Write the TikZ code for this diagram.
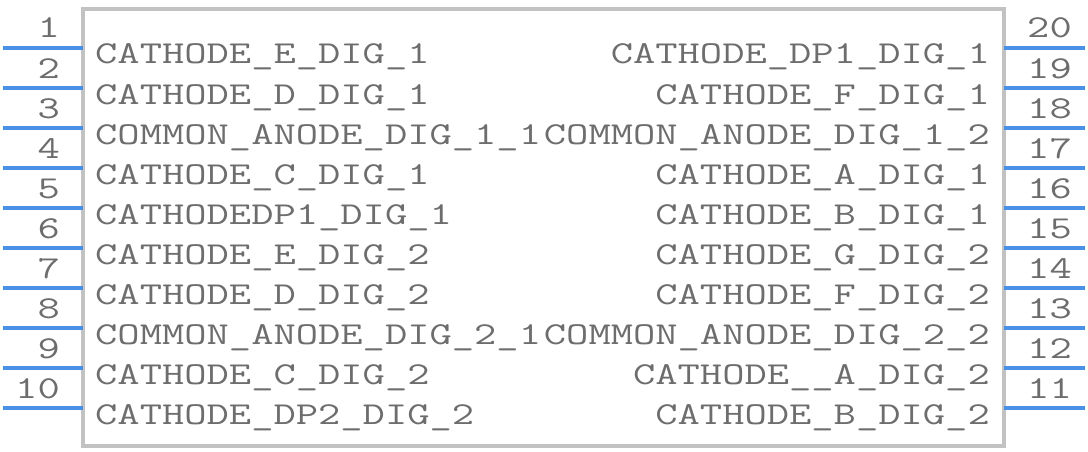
\documentclass[tikz,border=0pt]{standalone}
\usepackage{fontspec}
\newfontfamily\pinfont[FakeStretch=1.357]{Latin Modern Mono}
\definecolor{pinblue}{HTML}{4A90E6}
\definecolor{boxgray}{HTML}{C2C2C2}
\definecolor{txtgray}{HTML}{6D6D6D}
\begin{document}
\begin{tikzpicture}[x=1pt,y=-1pt,
  pinline/.style={draw=pinblue,line width=3.5pt},
  bodybox/.style={draw=boxgray,line width=4pt},
  lbl/.style={inner sep=0pt,text=txtgray,font=\pinfont\fontsize{31.9}{40}\selectfont},
  pinnum/.style={inner sep=0pt,text=txtgray,font=\pinfont\fontsize{31.9}{40}\selectfont}]
\useasboundingbox (0,0) rectangle (1088,452);
\draw[bodybox] (83,9) rectangle (1004,446);
% left pins
\foreach \n/\t [count=\i from 0] in {1/CATHODE\_E\_DIG\_1,2/CATHODE\_D\_DIG\_1,3/COMMON\_ANODE\_DIG\_1\_1,4/CATHODE\_C\_DIG\_1,5/CATHODEDP1\_DIG\_1,6/CATHODE\_E\_DIG\_2,7/CATHODE\_D\_DIG\_2,8/COMMON\_ANODE\_DIG\_2\_1,9/CATHODE\_C\_DIG\_2,10/CATHODE\_DP2\_DIG\_2}{
  \coordinate (lo\n) at (3,48+40*\i);
  \coordinate (li\n) at (83,48+40*\i);
  \draw[pinline] (lo\n) -- (li\n);
  \node[pinnum,anchor=base east] (ln\n) at (60,38+40*\i) {\n};
  \node[lbl,anchor=base west] (ll\n) at (95,64+40*\i) {\t};
}
% right pins
\foreach \n/\t [count=\i from 0] in {20/CATHODE\_DP1\_DIG\_1,19/CATHODE\_F\_DIG\_1,18/COMMON\_ANODE\_DIG\_1\_2,17/CATHODE\_A\_DIG\_1,16/CATHODE\_B\_DIG\_1,15/CATHODE\_G\_DIG\_2,14/CATHODE\_F\_DIG\_2,13/COMMON\_ANODE\_DIG\_2\_2,12/CATHODE\_\_A\_DIG\_2,11/CATHODE\_B\_DIG\_2}{
  \coordinate (ro\n) at (1085,48+40*\i);
  \coordinate (ri\n) at (1004,48+40*\i);
  \draw[pinline] (ri\n) -- (ro\n);
  \node[pinnum,anchor=base west] (rn\n) at (1027,38+40*\i) {\n};
  \node[lbl,anchor=base east] (rl\n) at (990,64+40*\i) {\t};
}
\end{tikzpicture}
\end{document}
